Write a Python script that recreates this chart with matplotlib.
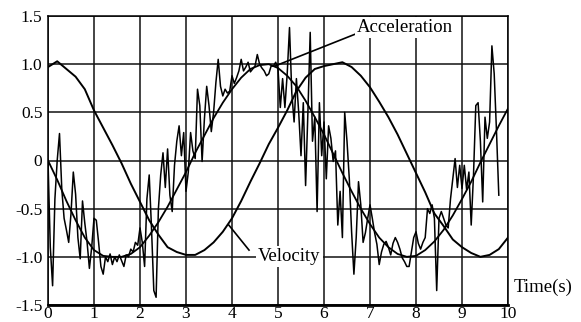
import numpy as np
import matplotlib
matplotlib.use("Agg")
import matplotlib.pyplot as plt

# ---------------- data ----------------
vel_t = [0.0, 0.2, 0.4, 0.6, 0.8, 1.0, 1.2, 1.4, 1.6, 1.8, 2.0, 2.2, 2.4, 2.6, 2.8,
         3.0, 3.2, 3.4, 3.6, 3.8, 4.0, 4.2, 4.4, 4.6, 4.8, 5.0, 5.2, 5.4, 5.6, 5.8,
         6.0, 6.2, 6.4, 6.6, 6.8, 7.0, 7.2, 7.4, 7.6, 7.8, 8.0, 8.2, 8.4, 8.6, 8.8,
         9.0, 9.2, 9.4, 9.6, 9.8, 10.0]
velocity = [0.97, 1.03, 0.95, 0.87, 0.74, 0.52, 0.34, 0.16, -0.03, -0.24, -0.43, -0.62,
            -0.77, -0.90, -0.95, -0.98, -0.98, -0.93, -0.85, -0.74, -0.60, -0.42, -0.22,
            -0.03, 0.17, 0.34, 0.52, 0.72, 0.86, 0.95, 0.98, 1.00, 1.02, 0.97, 0.88, 0.76,
            0.61, 0.45, 0.27, 0.07, -0.13, -0.33, -0.55, -0.68, -0.82, -0.90, -0.96, -1.00,
            -0.98, -0.92, -0.80]

acc_ref = [0.0, -0.20, -0.42, -0.62, -0.80, -0.93, -0.99, -1.00, -1.00, -0.97, -0.90,
           -0.78, -0.64, -0.48, -0.30, -0.12, 0.08, 0.26, 0.44, 0.60, 0.74, 0.86, 0.95,
           0.99, 1.00, 0.96, 0.88, 0.77, 0.62, 0.45, 0.27, 0.07, -0.13, -0.32, -0.50,
           -0.66, -0.80, -0.90, -0.97, -1.00, -0.99, -0.93, -0.84, -0.72, -0.57, -0.40,
           -0.22, -0.02, 0.17, 0.36, 0.54]

acc_meas = [
    0.0, -0.9, -1.3, -0.4, 0.0, 0.28, -0.3, -0.6, -0.72, -0.85,
    -0.55, -0.12, -0.35, -0.8, -1.02, -0.42, -0.65, -0.85, -1.12, -0.9,
    -0.6, -0.62, -0.85, -1.1, -1.18, -1.0, -1.05, -0.97, -1.08, -1.0,
    -1.05, -0.98, -1.04, -1.1, -0.98, -1.0, -0.92, -0.95, -0.85, -0.88,
    -0.7, -0.85, -1.1, -0.4, -0.15, -0.7, -1.35, -1.42, -0.5, -0.15,
    0.08, -0.28, 0.12, -0.36, -0.53, -0.05, 0.2, 0.36, 0.05, 0.29,
    -0.32, -0.12, 0.29, 0.1, 0.02, 0.74, 0.57, -0.01, 0.43, 0.77,
    0.57, 0.3, 0.5, 0.81, 1.05, 0.77, 0.67, 0.74, 0.7, 0.72,
    0.88, 0.8, 0.86, 0.93, 1.05, 0.93, 0.97, 1.02, 0.92, 0.95,
    0.98, 1.1, 1.0, 0.96, 0.93, 0.88, 0.9, 0.98, 0.98, 1.02,
    0.95, 0.55, 0.85, 0.55, 0.9, 1.38, 0.7, 0.4, 0.85, 0.5,
    0.05, 0.6, -0.26, 0.5, 1.33, 0.2, 0.45, -0.53, 0.6, 0.05,
    0.4, -0.19, 0.36, 0.23, -0.01, 0.1, -0.67, -0.32, -0.8, 0.5,
    0.2, -0.19, -0.74, -1.18, -0.8, -0.22, -0.46, -0.85, -0.75, -0.6,
    -0.46, -0.6, -0.75, -0.87, -1.08, -0.95, -0.87, -0.84, -0.9, -0.98,
    -0.86, -0.8, -0.85, -0.92, -1.01, -1.05, -1.1, -1.1, -0.95, -0.8,
    -0.74, -0.86, -0.92, -0.85, -0.8, -0.5, -0.55, -0.46, -0.6, -1.35,
    -0.6, -0.53, -0.6, -0.67, -0.7, -0.4, -0.19, 0.02, -0.28, -0.05,
    -0.29, -0.05, -0.3, -0.12, -0.67, -0.15, 0.57, 0.6, 0.2, -0.43,
    0.45, 0.23, 0.4, 1.19, 0.9, 0.3, -0.36]
acc_t = np.arange(len(acc_meas)) * 0.05

x_ticks = [0, 1, 2, 3, 4, 5, 6, 7, 8, 9, 10]
y_ticks = [-1.5, -1.0, -0.5, 0.0, 0.5, 1.0, 1.5]
y_ticklabels = ["-1.5", "-1.0", "-0.5", "0", "0.5", "1.0", "1.5"]

# ---------------- figure ----------------
serif = ["Liberation Serif", "DejaVu Serif"]
fig = plt.figure(figsize=(5.81, 3.22), dpi=100)
ax = fig.add_axes([48 / 581, 17 / 322, 460 / 581, 289 / 322])

ax.set_xlim(0, 10)
ax.set_ylim(-1.5, 1.5)
ax.set_xticks(x_ticks)
ax.set_yticks(y_ticks)
ax.set_xticklabels([str(v) for v in x_ticks], family=serif, fontsize=12.5)
ax.set_yticklabels(y_ticklabels, family=serif, fontsize=12.5)
ax.tick_params(axis="y", length=0, pad=4)
ax.tick_params(axis="x", length=0, pad=1)
ax.grid(True, color="#111111", lw=1.1)
ax.set_axisbelow(True)
for s in ax.spines.values():
    s.set_color("black")
    s.set_linewidth(1.1)
ax.spines["bottom"].set_linewidth(2.0)

ax.plot(acc_t, acc_meas, color="black", lw=1.1)
ax.plot(vel_t, acc_ref, color="black", lw=1.3)
ax.plot(vel_t, velocity, color="black", lw=1.4)

# annotations
ax.plot([4.93, 6.67], [0.98, 1.31], color="black", lw=1.2)
ax.text(6.72, 1.38, "Acceleration", family=serif, fontsize=13.5, ha="left", va="center",
        bbox=dict(facecolor="white", edgecolor="none", pad=1.5))
ax.plot([3.93, 4.37], [-0.67, -0.93], color="black", lw=1.2)
ax.text(4.57, -1.0, "Velocity", family=serif, fontsize=13.5, ha="left", va="center",
        bbox=dict(facecolor="white", edgecolor="none", pad=1.5))
ax.text(10.12, -1.32, "Time(s)", family=serif, fontsize=13.5, ha="left", va="center",
        clip_on=False)

fig.savefig("out.png", dpi=100)
